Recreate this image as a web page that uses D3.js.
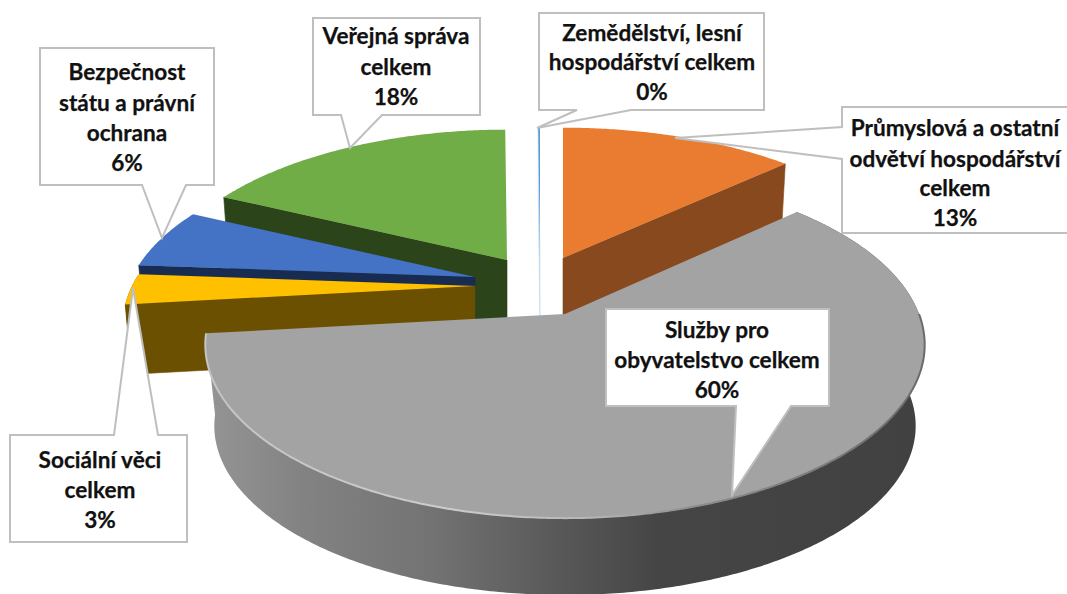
<!DOCTYPE html>
<html>
<head>
<meta charset="utf-8">
<script src="https://d3js.org/d3.v7.min.js"></script>
<style>
  html, body { margin: 0; padding: 0; background: #fff; }
  svg { display: block; }
  text { font-family: Lato, "Open Sans", sans-serif; font-weight: 700; font-size: 22.6px; fill: #111; stroke: #111; stroke-width: 0.25; }
</style>
</head>
<body>
<svg id="chart" width="1067" height="594"></svg>
<script>
// data
const categories = [
    "Průmyslová a ostatní odvětví hospodářství celkem",
    "Služby pro obyvatelstvo celkem",
    "Sociální věci celkem",
    "Bezpečnost státu a právní ochrana",
    "Veřejná správa celkem",
    "Zemědělství, lesní hospodářství celkem"
];
const shares = [13.1, 60.1, 3.0, 5.9, 17.8, 0.1];
const labelLines = [
    ["Průmyslová a ostatní", "odvětví hospodářství", "celkem"],
    ["Služby pro", "obyvatelstvo celkem"],
    ["Sociální věci", "celkem"],
    ["Bezpečnost", "státu a právní", "ochrana"],
    ["Veřejná správa", "celkem"],
    ["Zemědělství, lesní", "hospodářství celkem"]
];

// styling per slice
const topColors = ["#ea7c32", "#a3a3a3", "#ffc000", "#4472c4", "#70ad47", "#5b9bd5"];
const cutColors = ["#87491d", "#8c8c8c", "#6a5000", "#182c52", "#2c441a", "#c2daef"];
// exploded slices, px from the pie centre
const explode = [[29, -28], [31, 28], [-59, 0], [-59, -9], [-27, -26], [6, -28]];
const paintOrder = [4, 0, 5, 3, 2, 1];

// the front slice sits closer to the camera than the back ones
const camera = [4.4, 5.65, 4.4, 4.4, 4.4, 4.4];
const depth = [70, 82, 70, 70, 70, 70];
const inset = [0.982, 0.975, 0.982, 0.982, 0.982, 0.982];
const widen = [1, 1, 0.98, 0.98, 0.985, 1];

// callouts: box, pointer base and tip
const callouts = [
    {box: [842, 107, 1070, 233], side: "left", base: [127, 159], tip: [675, 138], cx: 955, y: [128, 159, 188]},
    {box: [606, 309, 829, 406], side: "bottom", base: [736, 791], tip: [732, 495], cx: 717, y: [330, 360]},
    {box: [10, 435, 187, 542], side: "top", base: [114, 158], tip: [133, 288], cx: 100, y: [460, 490]},
    {box: [40, 48, 214, 185], side: "bottom", base: [142, 186], tip: [162, 238], cx: 127, y: [72, 103, 133]},
    {box: [313, 18, 480, 115], side: "bottom", base: [341, 382], tip: [350, 148], cx: 396, y: [36, 67]},
    {box: [539, 13, 764, 110], side: "bottom", base: [577, 631], tip: [537, 128], cx: 652, y: [33, 62]}
];

const cx = 534, cy = 286;

const svg = d3.select("#chart");

const xBack = d3.scaleLinear().domain([-1, 1]).range([-350, 350]);
const yBack = d3.scaleLinear().domain([-1, 1]).range([-160, 160]);
const xFront = d3.scaleLinear().domain([-1, 1]).range([-354, 354]);
const yFront = d3.scaleLinear().domain([-1, 1]).range([-168, 168]);

const slices = d3.pie().sort(null).value(d => d)(shares);

// point on the pie, r 0..1, angle clockwise from the top, bottom=true for the lower plane
const project = function(i, angle, r, bottom) {
    const X = r * Math.sin(angle);
    const Y = -r * Math.cos(angle);
    const s = camera[i] / (camera[i] - Y) * (bottom ? inset[i] : 1);
    const xs = (i === 1) ? xFront : xBack;
    const ys = (i === 1) ? yFront : yBack;
    return [
        cx + explode[i][0] + xs(X) * s * widen[i],
        cy + explode[i][1] + ys(Y) * s + (bottom ? depth[i] : 0)
    ];
};

const line = d3.line();

const arcPoints = function(i, a0, a1, bottom) {
    const n = Math.max(2, Math.ceil(Math.abs(a1 - a0) / 0.01));
    return d3.range(n + 1).map(k => project(i, a0 + (a1 - a0) * k / n, 1, bottom));
};

// gradients for the big grey slice
const defs = svg.append("defs");
const rimGradient = defs.append("linearGradient")
    .attr("id", "rimGradient")
    .attr("gradientUnits", "userSpaceOnUse")
    .attr("x1", 205).attr("x2", 925).attr("y1", 0).attr("y2", 0);
[[0, "#959595"], [0.132, "#838383"], [0.313, "#737373"], [0.493, "#585858"], [0.632, "#454545"], [1, "#414141"]]
    .forEach(d => rimGradient.append("stop").attr("offset", d[0]).attr("stop-color", d[1]));
const edgeGradient = defs.append("linearGradient")
    .attr("id", "edgeGradient")
    .attr("gradientUnits", "userSpaceOnUse")
    .attr("x1", 205).attr("x2", 925).attr("y1", 0).attr("y2", 0);
[[0, "#c4c4c4"], [0.34, "#cccccc"], [0.55, "#b4b4b4"], [0.68, "#8e8e8e"], [1, "#6a6a6a"]]
    .forEach(d => edgeGradient.append("stop").attr("offset", d[0]).attr("stop-color", d[1]));

const pie = svg.append("g");

paintOrder.forEach(function(i) {
    const d = slices[i];
    const g = pie.append("g").attr("class", "slice");

    // grey slice only shows its rim, the others their cut face
    if (i !== 1) {
        const a = (i === 0) ? d.endAngle : d.startAngle;
        const face = [
            project(i, a, 0, false), project(i, a, 1, false),
            project(i, a, 1, true), project(i, a, 0, true)
        ];
        g.append("path")
            .attr("d", line(face) + "Z")
            .attr("fill", cutColors[i])
            .attr("stroke", cutColors[i])
            .attr("stroke-width", 0.6);
    }
    if (i === 1 || i === 2) {
        const rim = arcPoints(i, d.startAngle, d.endAngle, false)
            .concat(arcPoints(i, d.endAngle, d.startAngle, true));
        g.append("path")
            .attr("d", line(rim) + "Z")
            .attr("fill", i === 1 ? "url(#rimGradient)" : cutColors[i]);
    }

    const top = [project(i, 0, 0, false)].concat(arcPoints(i, d.startAngle, d.endAngle, false));
    g.append("path")
        .attr("d", line(top) + "Z")
        .attr("fill", topColors[i]);

    // soft light edge, only round the front of the grey slice
    if (i === 1) {
        g.append("path")
            .attr("d", line(arcPoints(i, Math.PI * 0.5, d.endAngle, false)))
            .attr("fill", "none")
            .attr("stroke", "url(#edgeGradient)")
            .attr("stroke-width", 2);
    }
});

// callouts on top of the pie
const calloutPath = function(c) {
    const [x0, y0, x1, y1] = c.box;
    let pts;
    if (c.side === "bottom") {
        pts = [[x0, y0], [x1, y0], [x1, y1], [c.base[1], y1], c.tip, [c.base[0], y1], [x0, y1]];
    } else if (c.side === "top") {
        pts = [[x0, y0], [c.base[0], y0], c.tip, [c.base[1], y0], [x1, y0], [x1, y1], [x0, y1]];
    } else {
        pts = [[x0, y0], [x1, y0], [x1, y1], [x0, y1], [x0, c.base[1]], c.tip, [x0, c.base[0]]];
    }
    return line(pts) + "Z";
};

const labels = svg.append("g")
    .selectAll("g")
    .data(callouts)
    .enter()
    .append("g");

labels.append("path")
    .attr("d", calloutPath)
    .attr("fill", "#fff")
    .attr("stroke", "#bfbfbf")
    .attr("stroke-width", 2);

labels.each(function(c, i) {
    const ys = c.y.concat(c.y[c.y.length - 1] + 30);
    const rows = labelLines[i].concat(d3.format(".0f")(shares[i]) + "%");
    d3.select(this).selectAll("text")
        .data(rows)
        .enter()
        .append("text")
        .attr("x", c.cx)
        .attr("y", (r, k) => ys[k])
        .attr("dy", "0.35em")
        .attr("text-anchor", "middle")
        .text(r => r);
});
</script>
</body>
</html>
